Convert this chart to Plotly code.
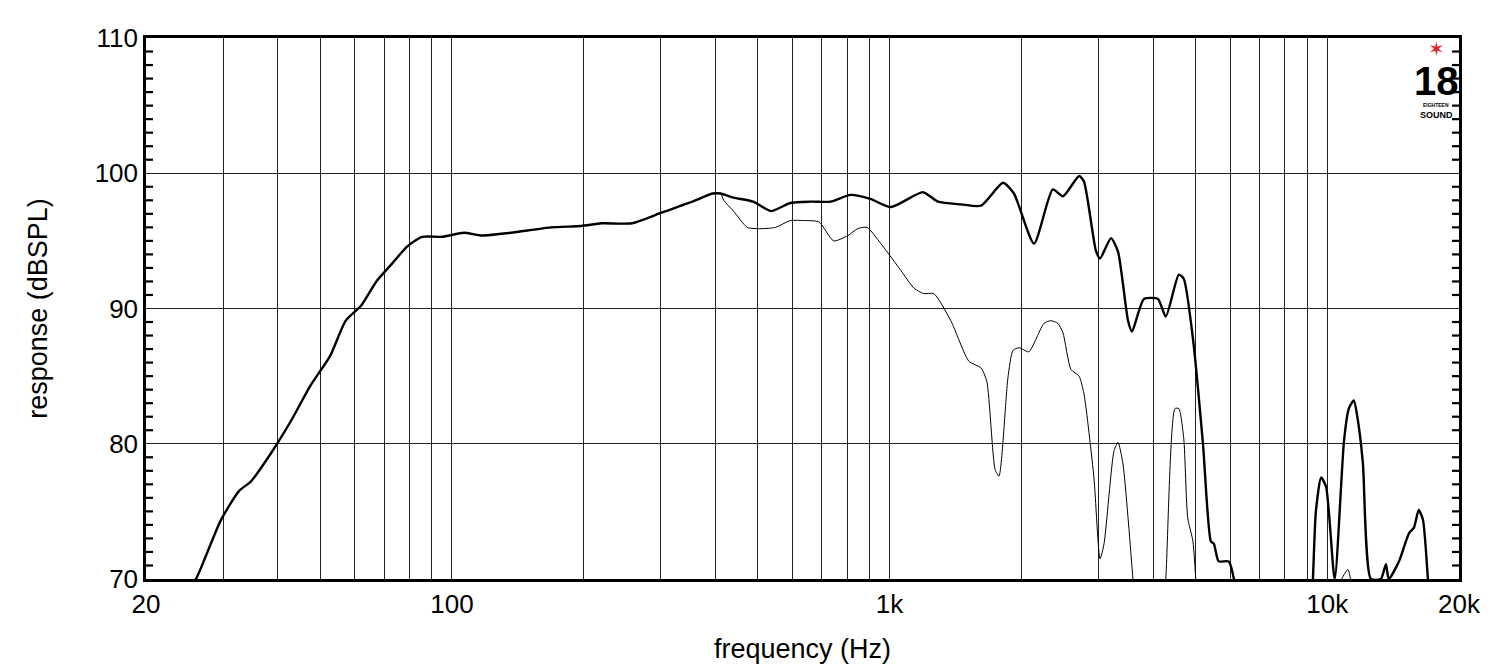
import plotly.graph_objects as go

# Thick (on-axis) curve
main_f = [20, 26.0, 27.4, 29.6, 32.6, 34.7, 38.6, 42.9, 47.5, 52.7, 57.2, 62.0, 67.2, 72.9, 79.1, 85.5,
          94.9, 106.6, 116.6, 136.4, 168.4, 197.4, 219.6, 257.8, 302, 354, 394, 411, 440, 488, 536,
          593, 660, 733, 814, 904, 1007, 1192, 1290, 1456, 1618, 1816, 1924, 2138, 2360, 2490,
          2710, 2780, 2960, 3026, 3206, 3326, 3506, 3580, 3812, 4104, 4276, 4580, 4700, 4932,
          5200, 5420, 5508, 5650, 5956, 6120, 6352, 9100, 9274, 9420, 9680, 9940, 10400, 10920,
          11200, 11500, 11740, 12060, 12580, 13260, 13620, 13820, 14580, 15380, 15780, 16180,
          16540, 16980, 17300]
main_db = [65, 70.0, 71.7, 74.3, 76.5, 77.2, 79.3, 81.7, 84.3, 86.5, 89.1, 90.2, 92.0, 93.3, 94.6, 95.3,
           95.3, 95.6, 95.4, 95.6, 96.0, 96.1, 96.3, 96.3, 97.1, 97.9, 98.5, 98.5, 98.2, 97.9, 97.2,
           97.8, 97.9, 97.9, 98.4, 98.1, 97.5, 98.6, 97.9, 97.7, 97.6, 99.3, 98.5, 94.8, 98.8, 98.3,
           99.8, 99.4, 94.3, 93.7, 95.2, 94.2, 89.1, 88.3, 90.7, 90.7, 89.4, 92.5, 92.2, 87.8,
           80.0, 72.8, 72.6, 71.3, 71.3, 70.0, 65, 65, 70.0, 75.0, 77.5, 76.8, 70.0, 80.2,
           82.6, 83.2, 81.8, 78.6, 70.0, 70.0, 71.1, 70.0, 71.3, 73.4, 73.8, 75.1,
           74.4, 70.0, 65]

# Thin (off-axis) curve, above 411 Hz
off_f = [418, 440, 473, 508, 549, 593, 640, 690, 745, 804, 845, 888, 955, 1062, 1137, 1197, 1262,
         1380, 1518, 1618, 1668, 1742, 1778, 1864, 1914, 1976, 2080, 2252, 2336, 2424, 2490, 2596,
         2710, 2780, 2930, 3026, 3090, 3258, 3326, 3414, 3598, 3700, 4150, 4276, 4488, 4580, 4700,
         4800, 4932, 5010, 5150, 10500, 10800, 11150, 11300, 11600]
off_db = [98.0, 97.2, 96.0, 95.9, 96.0, 96.5, 96.5, 96.4, 95.0, 95.4, 95.9, 96.0, 94.8, 92.8, 91.5,
          91.1, 91.1, 89.1, 86.1, 85.6, 84.6, 78.1, 77.6, 84.9, 86.9, 87.1, 86.8, 88.9, 89.1, 88.9,
          88.2, 85.5, 85.0, 83.7, 77.5, 71.5, 72.6, 79.5, 80.1, 78.5, 70.0, 65, 65, 70.0, 82.6, 82.6,
          80.4, 74.5, 72.8, 69.9, 65, 65, 70.0, 70.7, 70.0, 65]

x_ticks = [20, 30, 40, 50, 60, 70, 80, 90, 100, 200, 300, 400, 500, 600, 700, 800, 900, 1000,
           2000, 3000, 4000, 5000, 6000, 7000, 8000, 9000, 10000, 20000]
x_labels = {20: "20", 100: "100", 1000: "1k", 10000: "10k", 20000: "20k"}
y_minor = [v for v in range(71, 110) if v % 10 != 0]

thin_f = [f for f in main_f if f <= 411] + off_f
thin_db = [d for f, d in zip(main_f, main_db) if f <= 411] + off_db

L, R, T, B = 138, 61, 30, 101
W, H = 1512, 672

fig = go.Figure()
fig.add_trace(go.Scatter(x=thin_f, y=thin_db, mode="lines",
                         line=dict(color="black", width=1, shape="spline", smoothing=0.6), showlegend=False))
fig.add_trace(go.Scatter(x=main_f, y=main_db, mode="lines",
                         line=dict(color="black", width=2.4, shape="spline", smoothing=0.6), showlegend=False))
# 1 dB tick marks on both vertical borders (short segments from each border)
tx, ty = [], []
for v in y_minor:
    tx += [20, 20.75, None, 19280, 20000, None]
    ty += [v, v, None, v, v, None]
fig.add_trace(go.Scatter(x=tx, y=ty, mode="lines", line=dict(color="black", width=2.2),
                         showlegend=False, hoverinfo="skip", connectgaps=False))

fig.update_layout(
    width=W, height=H, plot_bgcolor="white", paper_bgcolor="white",
    margin=dict(l=L, r=R, t=T, b=B),
    font=dict(family="Liberation Sans, Arial, sans-serif", size=26, color="black"),
    xaxis=dict(type="log", range=[1.30103, 4.30103],
               tickvals=x_ticks, ticktext=[x_labels.get(v, "") for v in x_ticks],
               showgrid=True, gridcolor="#222", gridwidth=1.4,
               showline=True, linecolor="black", linewidth=2.5, mirror=True,
               ticks="", title=dict(text="frequency (Hz)", standoff=22, font=dict(size=27))),
    yaxis=dict(range=[70, 110], dtick=10, tick0=70,
               showgrid=True, gridcolor="#222", gridwidth=1.4, zeroline=False,
               showline=True, linecolor="black", linewidth=2.5, mirror=True,
               ticks="", title=dict(text="response (dBSPL)", standoff=40, font=dict(size=27))),
)

logo = [
    ("✶", 1435, 48, dict(color="#e8202a", size=20)),
    ("<b>18</b>", 1435, 80, dict(color="black", size=40, family="Liberation Sans Narrow, Arial Narrow, sans-serif")),
    ("<b>EIGHTEEN</b>", 1435, 104, dict(color="black", size=5)),
    ("<b>SOUND</b>", 1435, 114, dict(color="black", size=9, family="Liberation Sans Narrow, sans-serif")),
]
pw, ph = W - L - R, H - T - B
for txt, px, py, fnt in logo:
    fig.add_annotation(xref="paper", yref="paper", x=(px - 7 - L) / pw, y=(H - py + 7 - B) / ph,
                       text=txt, showarrow=False, font=fnt, xanchor="center", yanchor="middle")

fig.write_html("out.html")
